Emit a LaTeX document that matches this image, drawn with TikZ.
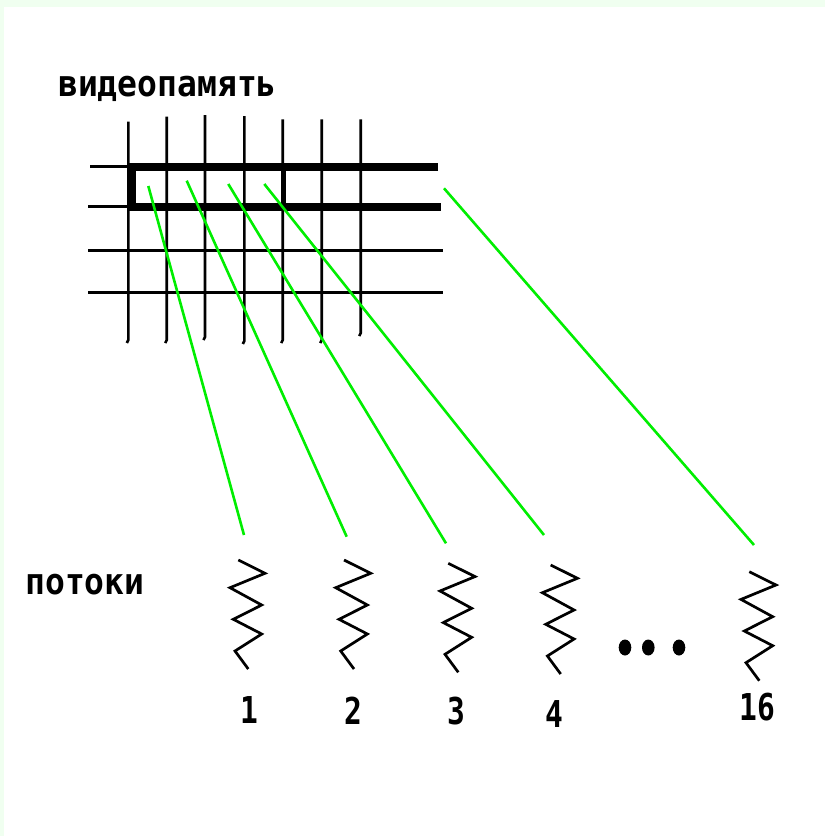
\documentclass[tikz,border=0pt]{standalone}
\usepackage{fontspec}
\setmainfont{DejaVu Sans Mono}
\begin{document}
\begin{tikzpicture}[x=1pt,y=-1pt,
  gridline/.style={line width=2.6pt,line cap=butt},
  thickline/.style={line width=8pt,miter limit=10},
  wire/.style={line width=2.6pt,draw={rgb,255:red,0;green,238;blue,0}},
  thread/.style={line width=2.7pt},
  lbl/.style={font=\fontsize{33}{37}\selectfont\bfseries,inner sep=0pt},
  numlbl/.style={font=\fontsize{37}{40}\selectfont\bfseries,inner sep=0pt},
  zig/.pic={\draw[thread] (0,0)--(26.7,13.3)--(-8.3,27.7)--(23.4,45)--(-5,59.3)--(23.4,74)--(-3.3,91)--(10,109);}
]
\useasboundingbox (0,0) rectangle (825,836);
\fill[color={rgb,255:red,240;green,255;blue,240}] (0,0) rectangle (825,836);
\fill[white] (4,7) rectangle (825,836);

% title labels
\node[lbl] (vp) at (167.5,89) {\scalebox{1}[1.1]{видеопамять}};
\node[lbl] (pt) at (85,585) {\scalebox{1}[1.1]{потоки}};

% vertical grid lines
\foreach \x/\t/\b in {128.3/121.7/343, 166.7/116.7/343, 205/115/340, 244.3/116/344, 282.7/119.3/343, 321.7/119.3/343, 360.7/119.3/336}{
  \draw[gridline] (\x,\t) -- (\x,\b-3) .. controls (\x,\b-1) .. (\x-1.5,\b);
}
% horizontal grid lines
\draw[gridline] (90,166.7) -- (130,166.7);
\draw[gridline] (88.3,206.7) -- (130,206.7);
\draw[gridline] (88.3,250.7) -- (443.3,250.7);
\draw[gridline] (88.3,292.3) -- (443.3,292.3);
% thick frame
\draw[thickline] (438,166.7) -- (131.5,166.7) -- (131.5,206.7) -- (440.7,206.7);
\draw[line width=5pt] (283,166.7) -- (283,206.7);

% threads
\coordinate (t1) at (238.3,560);
\coordinate (t2) at (344,560);
\coordinate (t3) at (448.3,563.3);
\coordinate (t4) at (550.7,565);
\coordinate (t16) at (749.3,571.7);
\foreach \t in {t1,t2,t3,t4,t16}{ \pic at (\t) {zig}; }

% green connectors
\coordinate (a1) at (148.3,186);   \coordinate (b1) at (244,535);
\coordinate (a2) at (186.7,180.7); \coordinate (b2) at (346.7,536.7);
\coordinate (a3) at (228.3,184);   \coordinate (b3) at (446,543.3);
\coordinate (a4) at (264.3,184);   \coordinate (b4) at (544,535);
\coordinate (a16) at (444,188.3);  \coordinate (b16) at (754,545);
\foreach \i in {1,2,3,4,16}{ \draw[wire] (a\i) -- (b\i); }

% dots
\foreach \x [count=\k] in {625,648.3,679}{
  \fill (\x,647.5) ellipse (6.3 and 8);
}

% numbers
\foreach \n/\x/\y in {1/249.5/710, 2/353/711, 3/456.5/711.5, 4/554/714, 16/757.5/707.5}{
  \node[numlbl] (n\n) at (\x,\y) {\scalebox{0.8}[1]{\n}};
}
\end{tikzpicture}
\end{document}
